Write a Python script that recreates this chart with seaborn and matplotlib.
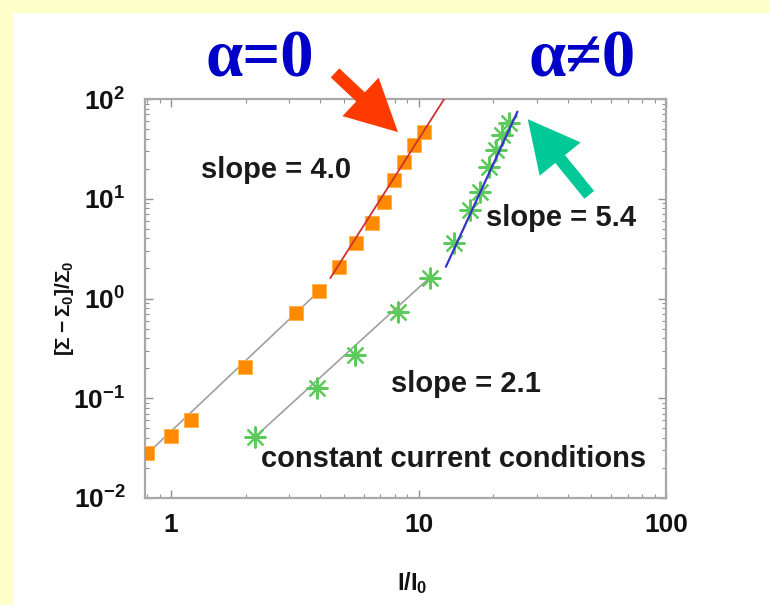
import numpy as np
import pandas as pd
import matplotlib
matplotlib.use("Agg")
import matplotlib.pyplot as plt
import seaborn as sns
from matplotlib.patches import Rectangle, FancyArrowPatch
from matplotlib.ticker import FixedLocator, FixedFormatter, LogLocator, NullFormatter

# ---------------- data ----------------
alpha0_x = [0.80, 1.00, 1.20, 1.99, 3.21, 3.97, 4.79, 5.61, 6.49, 7.24, 7.94, 8.72, 9.57, 10.5]
alpha0_y = [0.028, 0.042, 0.060, 0.207, 0.711, 1.20, 2.08, 3.58, 5.75, 9.34, 15.4, 23.5, 34.6, 47.0]

alphan_x = [2.19, 3.89, 5.56, 8.28, 11.1, 13.9, 16.2, 17.8, 19.3, 20.5, 21.8, 23.2]
alphan_y = [0.0412, 0.126, 0.271, 0.737, 1.62, 3.58, 7.71, 11.8, 20.9, 30.8, 43.5, 57.1]

# fit / guide lines (end points)
guide_a0_x = [0.78, 3.97]
guide_a0_y = [0.026, 1.19]
guide_an_x = [2.19, 11.1]
guide_an_y = [0.0412, 1.62]
fit_a0_x = [4.40, 12.7]
fit_a0_y = [1.60, 100.0]
fit_an_x = [12.9, 25.1]
fit_an_y = [2.08, 74.6]

xtick_vals = [1, 10, 100]
xtick_labels = ["1", "10", "100"]
ytick_vals = [0.01, 0.1, 1, 10, 100]
ytick_labels = [r"$10^{-2}$", r"$10^{-1}$", r"$10^{0}$", r"$10^{1}$", r"$10^{2}$"]

annotations = ["slope = 4.0", "slope = 5.4", "slope = 2.1", "constant current conditions"]
headers = ["\u03b1=0", "\u03b1\u22600"]

# ---------------- style ----------------
sns.set_theme(style="ticks")
plt.rcParams["font.family"] = ["Liberation Sans", "DejaVu Sans"]
plt.rcParams["font.weight"] = "bold"
plt.rcParams["mathtext.fontset"] = "custom"
plt.rcParams["mathtext.rm"] = "Liberation Sans:bold"
plt.rcParams["mathtext.it"] = "Liberation Sans:bold"
plt.rcParams["mathtext.bf"] = "Liberation Sans:bold"

W, H = 769, 605
fig = plt.figure(figsize=(W / 100, H / 100), dpi=100, facecolor="white")

def fx(px):
    return px / W

def fy(py):
    return 1 - py / H

# yellow frame strips
yellow = "#FFFFCC"
fig.patches.append(Rectangle((0, 0), fx(13), 1, transform=fig.transFigure,
                             facecolor=yellow, edgecolor="none", zorder=0))
fig.patches.append(Rectangle((0, fy(13)), 1, 13 / H, transform=fig.transFigure,
                             facecolor=yellow, edgecolor="none", zorder=0))

ax_l, ax_r, ax_t, ax_b = 145, 666, 99, 498
ax = fig.add_axes([fx(ax_l), fy(ax_b), fx(ax_r - ax_l), (ax_b - ax_t) / H])
ax.set_facecolor("white")

# guide lines
sns.lineplot(x=guide_a0_x, y=guide_a0_y, ax=ax, color="#a0a0a0", linewidth=1.2,
             sort=False, estimator=None, zorder=1)
sns.lineplot(x=guide_an_x, y=guide_an_y, ax=ax, color="#a0a0a0", linewidth=1.2,
             sort=False, estimator=None, zorder=1)

# markers
sns.scatterplot(x=alpha0_x, y=alpha0_y, ax=ax, marker="s", s=115,
                color="#FF8A00", edgecolor="#FFB040", linewidth=0.6, zorder=3)
sns.scatterplot(x=alphan_x, y=alphan_y, ax=ax, marker=(8, 2, 0), s=210,
                color="#5CCB5C", linewidth=1.6, zorder=3)

# fits
sns.lineplot(x=fit_a0_x, y=fit_a0_y, ax=ax, color="#D03030", linewidth=1.3,
             sort=False, estimator=None, zorder=4)
sns.lineplot(x=fit_an_x, y=fit_an_y, ax=ax, color="#3434C8", linewidth=1.6,
             sort=False, estimator=None, zorder=4)

ax.set_xscale("log")
ax.set_yscale("log")
ax.set_xlim(0.785, 100)
ax.set_ylim(0.01, 100)

ax.xaxis.set_major_locator(FixedLocator(xtick_vals))
ax.xaxis.set_major_formatter(FixedFormatter(xtick_labels))
ax.yaxis.set_major_locator(FixedLocator(ytick_vals))
ax.yaxis.set_major_formatter(FixedFormatter(ytick_labels))
ax.xaxis.set_minor_locator(LogLocator(base=10, subs=np.arange(2, 10), numticks=20))
ax.yaxis.set_minor_locator(LogLocator(base=10, subs=np.arange(2, 10), numticks=20))
ax.xaxis.set_minor_formatter(NullFormatter())
ax.yaxis.set_minor_formatter(NullFormatter())

spine_c = "#a8a8a8"
for sp in ax.spines.values():
    sp.set_visible(True)
    sp.set_color(spine_c)
    sp.set_linewidth(1.6)
ax.tick_params(which="both", direction="in", top=True, right=True, color="#909090")
ax.tick_params(which="major", length=6, width=1.0, labelsize=19, pad=11)
ax.tick_params(which="minor", length=3, width=0.8)
ax.tick_params(axis="y", which="major", pad=14)
for lab in ax.get_xticklabels() + ax.get_yticklabels():
    lab.set_fontweight("bold")
    lab.set_color("#111111")

ax.set_xlabel(r"I/I$_0$", fontsize=17, fontweight="bold", color="#111111")
ax.xaxis.set_label_coords((412 - ax_l) / (ax_r - ax_l), (ax_b - 583) / (ax_b - ax_t))
ax.xaxis.label.set_va("center")
ax.set_ylabel(r"$[\Sigma-\Sigma_0]/\Sigma_0$", fontsize=15, color="#111111")
ax.yaxis.set_label_coords((64 - ax_l) / (ax_r - ax_l), (ax_b - 308) / (ax_b - ax_t))
ax.yaxis.label.set_va("center")

# annotation texts
txt_pos = [(276, 170), (561, 218), (466, 384), (454, 459)]
for t, (px, py) in zip(annotations, txt_pos):
    fig.text(fx(px), fy(py), t, ha="center", va="center", fontsize=21,
             fontweight="bold", color="#1a1a1a")

# big blue headers
head_pos = [(260, 60), (582, 60)]
for t, (px, py) in zip(headers, head_pos):
    fig.text(fx(px), fy(py), t, ha="center", va="center", fontsize=48,
             fontweight="bold", color="#0000C8",
             family=["Liberation Serif", "DejaVu Serif"])

# arrows (figure pixel coordinates)
def arrow(p0, p1, color):
    a = FancyArrowPatch((p0[0], H - p0[1]), (p1[0], H - p1[1]),
                        transform=None,
                        arrowstyle="simple,head_length=37,head_width=38,tail_width=9",
                        mutation_scale=1, color=color, linewidth=0, zorder=10)
    fig.patches.append(a)

arrow((333, 71), (400, 134), "#FF3A00")
arrow((591, 197), (526, 117), "#00C896")

fig.savefig("out.png", dpi=100, facecolor="white")
